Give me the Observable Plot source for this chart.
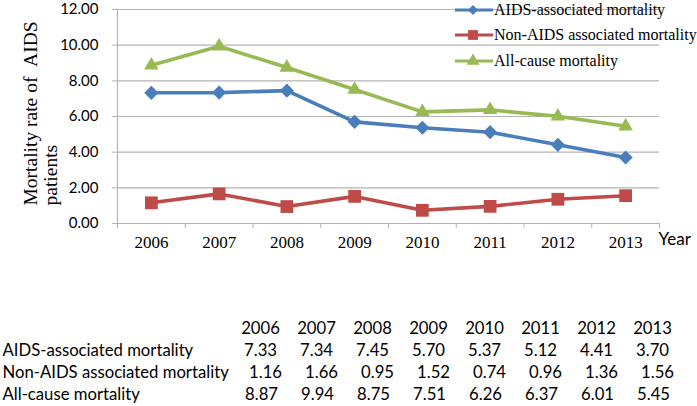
<!DOCTYPE html>
<html><head><meta charset="utf-8">
<script src="https://cdn.jsdelivr.net/npm/d3@7"></script>
<script src="https://cdn.jsdelivr.net/npm/@observablehq/plot@0.6"></script>
<style>
body{margin:0;background:#fff;}
#wrap{position:relative;width:697px;height:406px;overflow:hidden;}
#wrap svg{display:block;}
#legend{position:absolute;left:0;top:0;font-family:"Liberation Serif","Times New Roman",serif;font-size:16px;color:#000;}
.item{position:absolute;display:flex;align-items:center;white-space:nowrap;height:20px;}
.item svg{display:block;margin-right:1px;}
</style></head><body><div id="wrap"><div id="legend"></div></div>
<script>
const years = [2006, 2007, 2008, 2009, 2010, 2011, 2012, 2013];
const seriesNames = ["AIDS-associated mortality", "Non-AIDS associated mortality", "All-cause mortality"];
const aidsAssociated = [7.33, 7.34, 7.45, 5.70, 5.37, 5.12, 4.41, 3.70];
const nonAidsAssociated = [1.16, 1.66, 0.95, 1.52, 0.74, 0.96, 1.36, 1.56];
const allCause = [8.87, 9.94, 8.75, 7.51, 6.26, 6.37, 6.01, 5.45];
const yTicks = [0, 2, 4, 6, 8, 10, 12];
const yTitle = "Mortality rate of \u00a0AIDS\npatients";
const xTitle = "Year";

// styles
const colors = ["#4A7EBB", "#BE4B48", "#98B954"];
const symbols = ["diamond2", "square", "triangle"];
const radii = [6.4, 7.2, 5.4];
const rowDx = [0, 5, 1];
const gridColor = "#b3b3b3";

const seriesValues = [aidsAssociated, nonAidsAssociated, allCause];
const data = seriesNames.flatMap((s, k) => years.map((yr, i) => ({year: yr, series: s, value: seriesValues[k][i]})));
const bounds = [years[0] - 0.5, ...years.map(y => y + 0.5)];

const chart = Plot.plot({
  width: 697, height: 260,
  marginLeft: 117, marginRight: 38, marginTop: 9, marginBottom: 37,
  style: {fontFamily: "Lato, sans-serif", fontSize: "15px", color: "#000", background: "transparent", overflow: "visible"},
  x: {domain: [years[0] - 0.5, years[years.length - 1] + 0.5]},
  y: {domain: [0, 12]},
  color: {domain: seriesNames, range: colors},
  marks: [
    Plot.gridY({ticks: yTicks, stroke: gridColor, strokeOpacity: 1, strokeWidth: 1.2}),
    Plot.ruleX([years[0] - 0.5], {stroke: gridColor, strokeWidth: 1.2}),
    Plot.axisY({ticks: yTicks, tickFormat: d => d.toFixed(2), tickSize: 5, tickPadding: 14, stroke: gridColor, label: null, fontSize: 15}),
    Plot.axisX({ticks: bounds, tickFormat: () => "", tickSize: 5, stroke: gridColor, label: null}),
    Plot.axisX({ticks: years, tickFormat: d => String(d), tickSize: 0, tickPadding: 12, label: null, fontFamily: "Liberation Serif, serif", fontSize: 17}),
    Plot.line(data, {x: "year", y: "value", stroke: "series", strokeWidth: 3.6}),
    ...seriesNames.map((s, k) => Plot.dot(data.filter(d => d.series === s), {x: "year", y: "value", fill: colors[k], symbol: symbols[k], r: radii[k]})),
    Plot.text([yTitle], {frameAnchor: "left", textAnchor: "start", lineAnchor: "middle", rotate: -90, dx: -77, dy: 89, fontFamily: "Liberation Serif, serif", fontSize: 19.5, lineHeight: 1.03}),
    Plot.text([xTitle], {frameAnchor: "bottom-right", textAnchor: "start", dx: -1, dy: 21, fontSize: 17})
  ]
});

const cells = data;
const table = Plot.plot({
  width: 697, height: 146, margin: 0,
  style: {fontFamily: "Lato, sans-serif", fontSize: "16.7px", color: "#000", background: "transparent"},
  x: {type: "point", domain: years, range: [259, 653], padding: 0, axis: null},
  y: {type: "point", domain: ["header", ...seriesNames], range: [67, 134], padding: 0, axis: null},
  marks: [
    Plot.text(years, {x: d => d, y: () => "header", text: d => String(d)}),
    Plot.text(seriesNames, {frameAnchor: "left", y: d => d, text: d => d, textAnchor: "start", dx: 2}),
    ...seriesNames.map((s, k) => Plot.text(cells.filter(d => d.series === s), {x: "year", y: "series", text: d => d.value.toFixed(2), dx: rowDx[k]}))
  ]
});

const wrap = document.getElementById("wrap");
wrap.insertBefore(chart, wrap.firstChild);
wrap.insertBefore(table, document.getElementById("legend"));

// legend overlay
const legend = d3.select("#legend");
const d3sym = {diamond2: d3.symbolDiamond2, square: d3.symbolSquare, triangle: d3.symbolTriangle};
const legendSizes = [40, 60, 45];
const legendTops = [0, 25, 51];
seriesNames.forEach((s, k) => {
  const item = legend.append("div").attr("class", "item").style("left", "455px").style("top", legendTops[k] + "px");
  const svg = item.append("svg").attr("width", 38).attr("height", 20);
  svg.append("line").attr("x1", 0).attr("x2", 38).attr("y1", 10).attr("y2", 10).attr("stroke", colors[k]).attr("stroke-width", 3.2);
  svg.append("path").attr("transform", "translate(18,10)").attr("d", d3.symbol(d3sym[symbols[k]], legendSizes[k] * 1.6)()).attr("fill", colors[k]);
  item.append("span").text(s);
});
</script>
</body></html>
